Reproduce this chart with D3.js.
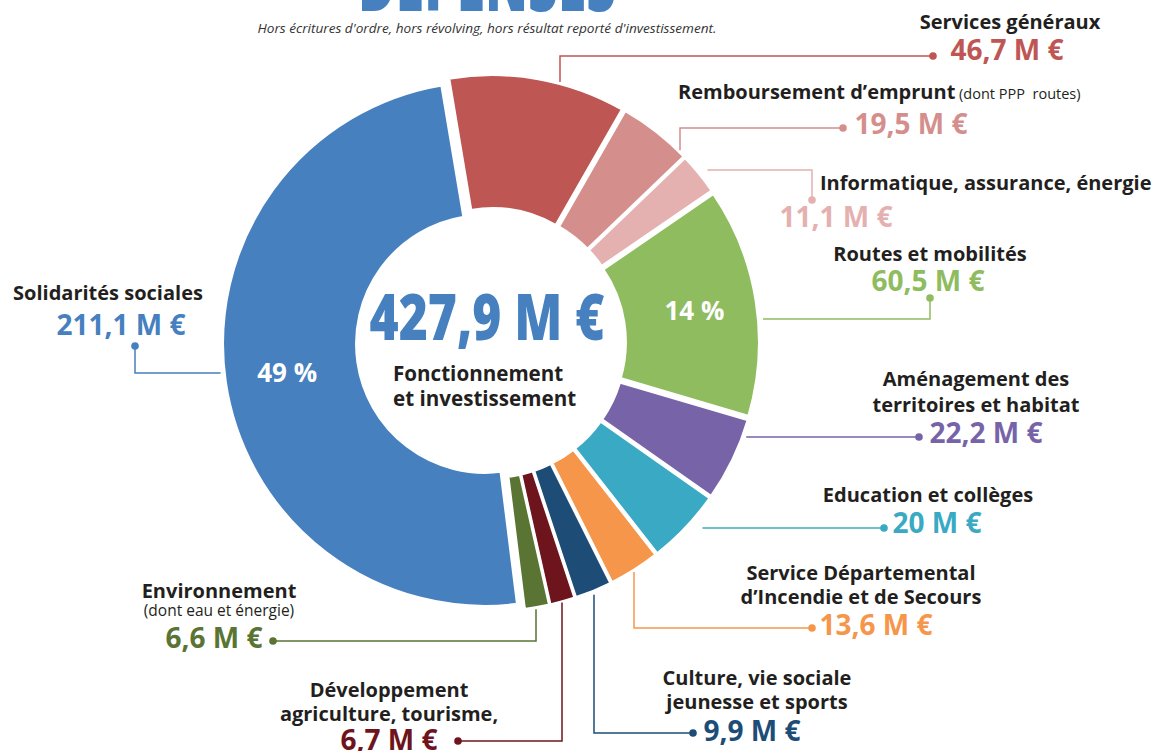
<!DOCTYPE html>
<html><head><meta charset="utf-8">
<script src="https://cdn.jsdelivr.net/npm/d3@7/dist/d3.min.js"></script>
<style>
body{margin:0;background:#fff}
svg{display:block}
text{font-family:"Open Sans","Noto Sans",sans-serif}
</style>
</head><body>
<svg id="chart" width="1152" height="751"></svg>
<script>
// ---------- DATA ----------
const categories = ["Solidarités sociales","Services généraux","Remboursement d’emprunt","Informatique, assurance, énergie","Routes et mobilités","Aménagement des territoires et habitat","Education et collèges","Service Départemental d’Incendie et de Secours","Culture, vie sociale jeunesse et sports","Développement agriculture, tourisme,","Environnement"];
const values = [211.1, 46.7, 19.5, 11.1, 60.5, 22.2, 20, 13.6, 9.9, 6.7, 6.6];
const valueLabels = ["211,1 M €","46,7 M €","19,5 M €","11,1 M €","60,5 M €","22,2 M €","20 M €","13,6 M €","9,9 M €","6,7 M €","6,6 M €"];
const colors = ["#4680bf","#be5653","#d48f8d","#e4b1b0","#8fbc5f","#7763a7","#3aaac4","#f5964a","#1d4d77","#6d141d","#5a7433"];
const percentShown = ["Solidarités sociales","Routes et mobilités"];
const totalLabel = "427,9 M €";
const centerLines = ["Fonctionnement","et investissement"];
const titleText = "DÉPENSES";
const subtitleText = "Hors écritures d'ordre, hors révolving, hors résultat reporté d'investissement.";

// ---------- LAYOUT (label positions, not data) ----------
const labelLayout = [
  {lines:["Solidarités sociales"], nx:108, ny:[300], vx:121, vy:335, dot:[135,346], corner:[135,373], dir:"h", gap:5},
  {lines:["Services généraux"], nx:1010, ny:[29], vx:1007, vy:60, dot:[933,56], corner:[560,56], dir:"v", gap:3},
  {lines:["Remboursement d’emprunt"], extra:" (dont PPP  routes)", anchor:"start", nx:678, ny:[99], vx:911, vy:134, dot:[843,128], corner:[680,128], dir:"v", gap:3},
  {lines:["Informatique, assurance, énergie"], anchor:"start", nx:820, ny:[190], vx:836, vy:227, dot:[812,200], corner:[812,170], dir:"h", gap:10},
  {lines:["Routes et mobilités"], nx:930, ny:[261], vx:928, vy:291, dot:[930,298], corner:[930,319], dir:"h", gap:6},
  {lines:["Aménagement des","territoires et habitat"], nx:976, ny:[386,412], vx:986, vy:443, dot:[919,437], corner:null, dir:"h", gap:5},
  {lines:["Education et collèges"], nx:928, ny:[502], vx:937, vy:533, dot:[884,528], corner:null, dir:"h", gap:14},
  {lines:["Service Départemental","d’Incendie et de Secours"], nx:861, ny:[580,604], vx:876, vy:635, dot:[812,628], corner:[634,628], dir:"v", gap:3},
  {lines:["Culture, vie sociale","jeunesse et sports"], nx:757, ny:[685,709], vx:752, vy:741, dot:[693,733], corner:[594,733], dir:"v", gap:5},
  {lines:["Développement","agriculture, tourisme,"], nx:389, ny:[697,721], vx:389, vy:750, dot:[458,741], corner:[562,741], dir:"v", gap:2},
  {lines:["Environnement"], sub:"(dont eau et énergie)", subY:616, nx:219, ny:[598], vx:214, vy:648, dot:[273,641], corner:[536,641], dir:"v", gap:3}
];

const svg = d3.select("#chart");
const cx = 491, cy = 343;
const R = 262.5, r = 128.5, explode = 6;
const a0 = 172.9 * Math.PI / 180;

const pie = d3.pie().sort(null).value(d => d).startAngle(a0).endAngle(a0 + 2 * Math.PI);
const arcs = pie(values);
const arc = d3.arc().innerRadius(r).outerRadius(R);

function sliceCenter(a) {
  const m = (a.startAngle + a.endAngle) / 2;
  return [cx + explode * Math.sin(m), cy - explode * Math.cos(m), m];
}

// Title (cut off at top)
svg.append("text").attr("x", 487).attr("y", 11).attr("text-anchor", "middle")
  .attr("font-size", 78).attr("font-weight", 900).attr("fill", "#4680bf")
  .attr("textLength", 258).attr("lengthAdjust", "spacingAndGlyphs")
  .text(titleText);
svg.append("text").attr("x", 487).attr("y", 33).attr("text-anchor", "middle")
  .attr("font-size", 13).attr("font-style", "italic").attr("fill", "#333")
  .attr("textLength", 459).attr("lengthAdjust", "spacingAndGlyphs")
  .text(subtitleText);

// Slices
const g = svg.append("g");
g.selectAll("path").data(arcs).join("path")
  .attr("transform", d => { const c = sliceCenter(d); return `translate(${c[0]},${c[1]})`; })
  .attr("d", arc)
  .attr("fill", (d, i) => colors[i])
  .attr("stroke", "#fff").attr("stroke-width", 3).attr("stroke-linejoin", "miter");

// Percent labels inside
const total = d3.sum(values);
arcs.forEach((d, i) => {
  if (!percentShown.includes(categories[i])) return;
  const c = sliceCenter(d);
  const rr = 200;
  svg.append("text")
    .attr("x", c[0] + rr * Math.sin(c[2])).attr("y", c[1] - rr * Math.cos(c[2]) + 9)
    .attr("text-anchor", "middle").attr("font-size", 26).attr("font-weight", 700).attr("fill", "#fff")
    .text(Math.round(values[i] / total * 100) + " %");
});

// Center texts
svg.append("text").attr("x", 487).attr("y", 340).attr("text-anchor", "middle")
  .attr("font-size", 64).attr("font-weight", 800).attr("fill", "#4680bf")
  .attr("textLength", 235).attr("lengthAdjust", "spacingAndGlyphs")
  .text(totalLabel);
centerLines.forEach((t, k) => {
  svg.append("text").attr("x", 393).attr("y", 381 + k * 25)
    .attr("font-size", 20.6).attr("font-weight", 700).attr("fill", "#231f20").text(t);
});

// Leaders and labels
arcs.forEach((d, i) => {
  const L = labelLayout[i];
  const col = colors[i];
  const c = sliceCenter(d);
  const Rg = R - 1.5 + L.gap;
  const ref = L.corner || L.dot;
  let start;
  if (L.dir === "h") {
    const y = ref[1];
    const dx = Math.sqrt(Math.max(0, Rg * Rg - (y - c[1]) ** 2));
    start = [c[0] + (ref[0] > c[0] ? dx : -dx), y];
  } else {
    const x = ref[0];
    const dy = Math.sqrt(Math.max(0, Rg * Rg - (x - c[0]) ** 2));
    start = [x, c[1] + (ref[1] > c[1] ? dy : -dy)];
  }
  const pts = [start];
  if (L.corner) pts.push(L.corner);
  pts.push(L.dot);
  svg.append("path").attr("d", d3.line()(pts))
    .attr("fill", "none").attr("stroke", col).attr("stroke-width", 1.5);
  svg.append("circle").attr("cx", L.dot[0]).attr("cy", L.dot[1]).attr("r", 3.8).attr("fill", col);

  const anchor = L.anchor || "middle";
  L.lines.forEach((t, k) => {
    const tx = svg.append("text").attr("x", L.nx).attr("y", L.ny[k])
      .attr("text-anchor", anchor).attr("font-size", 20).attr("font-weight", 700)
      .attr("fill", "#231f20").style("white-space", "pre").text(t);
    if (L.extra && k === 0) tx.append("tspan").attr("font-size", 14.5).attr("font-weight", 400).text(L.extra);
  });
  if (L.sub) {
    svg.append("text").attr("x", L.nx).attr("y", L.subY).attr("text-anchor", "middle")
      .attr("font-size", 15.5).attr("fill", "#231f20").text(L.sub);
  }
  svg.append("text").attr("x", L.vx).attr("y", L.vy).attr("text-anchor", "middle")
    .attr("font-size", 28).attr("font-weight", 700).attr("fill", col).text(valueLabels[i]);
});
</script>
</body></html>
